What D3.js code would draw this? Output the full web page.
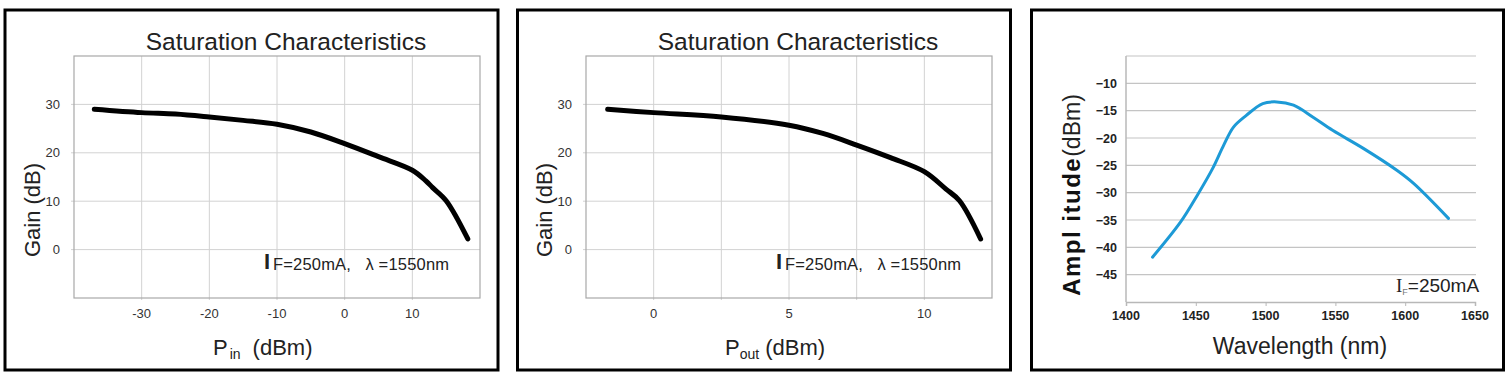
<!DOCTYPE html>
<html><head><meta charset="utf-8">
<script src="https://cdn.jsdelivr.net/npm/d3@7"></script>
<style>
html,body{margin:0;padding:0;background:#fff;}
svg{display:block;}
text{font-family:"Liberation Sans",Arial,sans-serif;}
</style></head>
<body>
<svg id="c" width="1510" height="381"></svg>
<script>
// ---- Data ----
const pinValues   = [-37, -30, -25, -20, -15, -10, -5, 0, 5, 10, 12, 13, 15, 18.2];
const gainVsPin   = [29.0, 28.3, 28.0, 27.4, 26.7, 25.9, 24.3, 21.9, 19.2, 16.4, 14.2, 12.8, 10.1, 2.2];
const poutValues  = [-1.7, 0, 2.5, 5, 6.25, 7.5, 8.75, 10, 10.8, 11.3, 12.08];
const gainVsPout  = [29.0, 28.3, 27.4, 25.7, 24.0, 21.6, 19.0, 16.1, 12.5, 10.1, 2.2];
const wavelengths = [1419, 1439, 1451, 1462, 1470, 1477, 1486, 1498, 1508, 1520, 1534, 1548, 1570, 1594, 1606, 1631];
const amplitudes  = [-41.8, -35.4, -30.5, -25.6, -21.3, -18.0, -15.9, -13.7, -13.4, -14.0, -16.2, -18.6, -21.9, -25.9, -28.3, -34.7];
const pinTicks    = [-30, -20, -10, 0, 10];
const poutTicks   = [0, 5, 10];
const poutGrid    = [0, 2.5, 5, 7.5, 10];
const gainTicks   = [0, 10, 20, 30];
const wlTicks     = [1400, 1450, 1500, 1550, 1600, 1650];
const ampTicks    = [-10, -15, -20, -25, -30, -35, -40, -45];
const ampGrid     = [-5, -10, -15, -20, -25, -30, -35, -40, -45];

const svg = d3.select("#c");

function frame(x, y, w, h) {
  svg.append("rect").attr("x", x).attr("y", y).attr("width", w).attr("height", h)
    .attr("fill", "#fff").attr("stroke", "#000").attr("stroke-width", 3);
}

// ---- Saturation panel ----
function satPanel(o) {
  frame(o.fx, 10, o.fw, 360);
  const g = svg.append("g");
  const x = d3.scaleLinear().domain(o.xDomain).range([o.left, o.right]);
  const y = d3.scaleLinear().domain([-10, 40]).range([298, 56]);

  // grid
  g.append("g").selectAll("line").data(o.xGrid).join("line")
    .attr("x1", d => x(d)).attr("x2", d => x(d)).attr("y1", 56).attr("y2", 300)
    .attr("stroke", "#d2d2d2").attr("stroke-width", 1);
  g.append("g").selectAll("line").data(gainTicks).join("line")
    .attr("x1", o.left - 3).attr("x2", o.right).attr("y1", d => y(d)).attr("y2", d => y(d))
    .attr("stroke", "#d2d2d2").attr("stroke-width", 1);
  g.append("rect").attr("x", o.left).attr("y", 56).attr("width", o.right - o.left).attr("height", 242)
    .attr("fill", "none").attr("stroke", "#a8a8a8").attr("stroke-width", 1.2);

  // tick labels
  g.append("g").selectAll("text").data(gainTicks).join("text")
    .attr("x", o.left - 14).attr("y", d => y(d) + 4.5).attr("text-anchor", "end")
    .attr("font-size", 13).attr("fill", "#333").text(d => d);
  g.append("g").selectAll("text").data(o.xTicks).join("text")
    .attr("x", d => x(d)).attr("y", 318).attr("text-anchor", "middle")
    .attr("font-size", 13).attr("fill", "#333").text(d => d);

  // title
  g.append("text").attr("x", o.titleX).attr("y", 50).attr("text-anchor", "middle")
    .attr("font-size", 24.5).attr("fill", "#222").text("Saturation Characteristics");

  // y label
  g.append("text").attr("transform", `translate(${o.yLabX},210) rotate(-90)`)
    .attr("text-anchor", "middle").attr("font-size", 22).attr("fill", "#222").text("Gain (dB)");

  // x label
  const xl = g.append("text").attr("x", o.xLabX).attr("y", 355).attr("font-size", 22).attr("fill", "#222");
  xl.append("tspan").text("P");
  xl.append("tspan").attr("font-size", 14).attr("dy", 4).attr("dx", o.subDx).text(o.sub);
  xl.append("tspan").attr("dy", -4).attr("dx", o.parenDx).text("(dBm)");

  // annotation
  g.append("text").attr("x", o.annX).attr("y", 269).attr("font-size", 22).attr("font-weight", "bold")
    .attr("fill", "#222").text("I");
  g.append("text").attr("x", o.annX + 9).attr("y", 270).attr("font-size", 16.5).attr("fill", "#222")
    .attr("textLength", o.annLen).attr("lengthAdjust", "spacing")
    .text("F=250mA,\u00a0\u00a0\u00a0λ =1550nm");

  // curve
  const pts = o.xs.map((v, i) => [v, o.ys[i]]);
  g.append("path").datum(pts)
    .attr("d", d3.line().x(d => x(d[0])).y(d => y(d[1])).curve(d3.curveCatmullRom.alpha(0.5)))
    .attr("fill", "none").attr("stroke", "#000").attr("stroke-width", 5)
    .attr("stroke-linecap", "round").attr("stroke-linejoin", "round");
}

satPanel({fx: 5, fw: 493, left: 74, right: 480, xDomain: [-40, 20],
  xGrid: pinTicks, xTicks: pinTicks, xs: pinValues, ys: gainVsPin,
  titleX: 286, yLabX: 40, xLabX: 213, sub: "in", subDx: 2, parenDx: 12,
  annX: 264, annLen: 176});

satPanel({fx: 517.5, fw: 493, left: 586, right: 992, xDomain: [-2.5, 12.5],
  xGrid: poutGrid, xTicks: poutTicks, xs: poutValues, ys: gainVsPout,
  titleX: 798, yLabX: 552, xLabX: 725, sub: "out", subDx: 0, parenDx: 6,
  annX: 776, annLen: 176});

// ---- Spectrum panel ----
(function () {
  frame(1031.5, 10, 472, 360);
  const g = svg.append("g");
  const x = d3.scaleLinear().domain([1400, 1650]).range([1126, 1475]);
  const y = d3.scaleLinear().domain([-50, -5]).range([302, 56]);

  g.append("g").selectAll("line").data(ampGrid).join("line")
    .attr("x1", 1126).attr("x2", 1476).attr("y1", d => y(d)).attr("y2", d => y(d))
    .attr("stroke", "#c4c4c4").attr("stroke-width", 1.2);
  g.append("line").attr("x1", 1126).attr("x2", 1126).attr("y1", 56).attr("y2", 302)
    .attr("stroke", "#b8b8b8").attr("stroke-width", 1.5);
  const xa = g.append("g").attr("transform", "translate(0,302)")
    .call(d3.axisBottom(x).tickValues(wlTicks).tickSize(4).tickFormat(""));
  xa.select(".domain").attr("stroke", "#b8b8b8").attr("stroke-width", 1.5);
  xa.selectAll(".tick line").attr("stroke", "#b8b8b8");

  g.append("g").selectAll("text").data(wlTicks).join("text")
    .attr("x", d => x(d)).attr("y", 320).attr("text-anchor", "middle")
    .attr("font-size", 12.5).attr("font-weight", "bold").attr("fill", "#222").text(d => d);
  g.append("g").selectAll("text").data(ampTicks).join("text")
    .attr("x", 1117).attr("y", d => y(d) + 4.5).attr("text-anchor", "end")
    .attr("font-size", 12.5).attr("font-weight", "bold").attr("fill", "#222")
    .text(d => "\u2212" + Math.abs(d));

  const yl = g.append("text").attr("transform", "translate(1080,195) rotate(-90)")
    .attr("text-anchor", "middle").attr("font-size", 24).attr("fill", "#111");
  yl.append("tspan").attr("font-weight", "bold").attr("letter-spacing", 1.5).text("Ampl itude");
  yl.append("tspan").attr("font-size", 23).attr("fill", "#222").text("(dBm)");

  g.append("text").attr("x", 1300).attr("y", 354).attr("text-anchor", "middle")
    .attr("font-size", 23).attr("fill", "#222").text("Wavelength (nm)");

  const an = g.append("text").attr("x", 1396).attr("y", 292).attr("fill", "#222");
  an.append("tspan").attr("font-family", "Liberation Serif, serif").attr("font-size", 19).text("I");
  an.append("tspan").attr("font-size", 9).attr("dy", 3).attr("fill", "#777").text("F");
  an.append("tspan").attr("font-size", 19).attr("dy", -3).text("=250mA");

  const pts = wavelengths.map((v, i) => [v, amplitudes[i]]);
  g.append("path").datum(pts)
    .attr("d", d3.line().x(d => x(d[0])).y(d => y(d[1])).curve(d3.curveCatmullRom.alpha(0.5)))
    .attr("fill", "none").attr("stroke", "#1d9ad6").attr("stroke-width", 3)
    .attr("stroke-linecap", "round").attr("stroke-linejoin", "round");
})();
</script>
</body></html>
